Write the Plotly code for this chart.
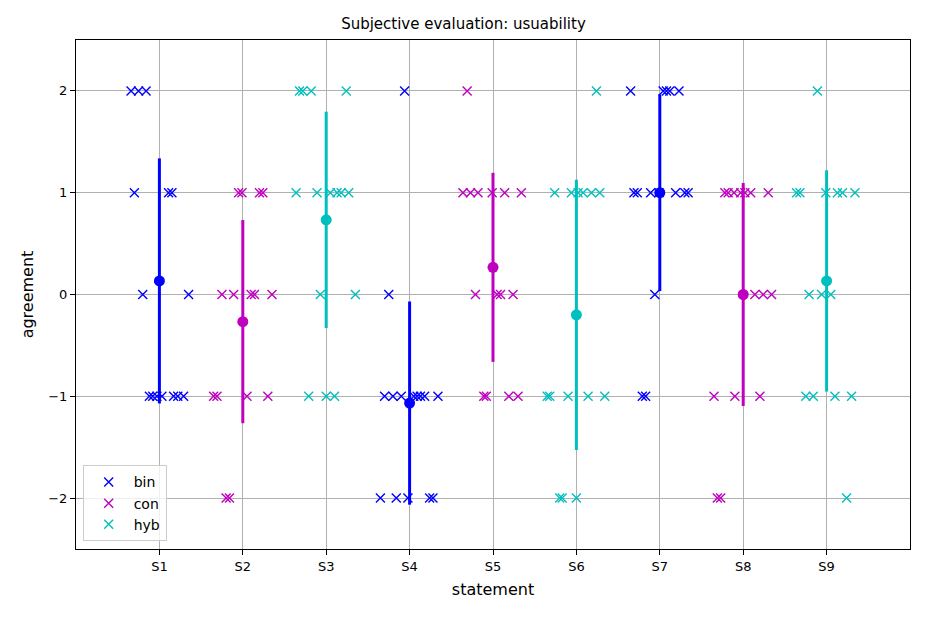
import numpy as np
import plotly.graph_objects as go

statements = ["S1", "S2", "S3", "S4", "S5", "S6", "S7", "S8", "S9"]
series_names = ["bin", "con", "hyb"]
series_colors = ["#0000ff", "#bf00bf", "#00bfbf"]
series_statements = [[0, 3, 6], [1, 4, 7], [2, 5, 8]]

# responses (15 per statement) and horizontal jitter offsets
s1_values = [2, 2, 2, 1, 1, 1, 0, 0, -1, -1, -1, -1, -1, -1, -1]
s1_jitter = [-0.34, -0.25, -0.16, -0.30, 0.11, 0.15, -0.20, 0.35, -0.12, -0.08, -0.03, 0.03, 0.17, 0.22, 0.29]

s2_values = [1, 1, 1, 1, 0, 0, 0, 0, 0, -1, -1, -1, -1, -2, -2]
s2_jitter = [-0.05, -0.01, 0.20, 0.24, -0.25, -0.11, 0.10, 0.14, 0.35, -0.35, -0.31, 0.05, 0.30, -0.20, -0.16]

s3_values = [2, 2, 2, 2, 1, 1, 1, 1, 1, 1, 0, 0, -1, -1, -1]
s3_jitter = [-0.32, -0.28, -0.18, 0.24, -0.36, -0.11, 0.05, 0.13, 0.18, 0.27, -0.07, 0.35, -0.21, 0.00, 0.10]

s4_values = [2, 0, -1, -1, -1, -1, -1, -1, -1, -1, -2, -2, -2, -2, -2]
s4_jitter = [-0.06, -0.25, -0.30, -0.20, -0.10, 0.05, 0.09, 0.13, 0.18, 0.34, -0.35, -0.16, -0.02, 0.24, 0.28]

s5_values = [2, 1, 1, 1, 1, 1, 1, 0, 0, 0, 0, -1, -1, -1, -1]
s5_jitter = [-0.31, -0.36, -0.27, -0.18, -0.01, 0.14, 0.34, -0.21, 0.05, 0.09, 0.24, -0.11, -0.08, 0.19, 0.30]

s6_values = [2, 1, 1, 1, 1, 1, 1, -1, -1, -1, -1, -1, -2, -2, -2]
s6_jitter = [0.24, -0.26, -0.06, 0.02, 0.08, 0.18, 0.28, -0.35, -0.32, -0.10, 0.14, 0.34, -0.20, -0.17, 0.00]

s7_values = [2, 2, 2, 2, 2, 1, 1, 1, 1, 1, 1, 1, 0, -1, -1]
s7_jitter = [-0.35, 0.04, 0.08, 0.12, 0.23, -0.31, -0.27, -0.11, -0.01, 0.19, 0.30, 0.34, -0.06, -0.21, -0.17]

s8_values = [1, 1, 1, 1, 1, 1, 1, 0, 0, 0, -1, -1, -1, -2, -2]
s8_jitter = [-0.22, -0.18, -0.11, -0.03, 0.02, 0.09, 0.30, 0.14, 0.24, 0.34, -0.35, -0.10, 0.20, -0.31, -0.27]

s9_values = [2, 1, 1, 1, 1, 1, 1, 0, 0, 0, -1, -1, -1, -1, -2]
s9_jitter = [-0.11, -0.36, -0.32, -0.01, 0.13, 0.19, 0.34, -0.21, -0.06, 0.05, -0.25, -0.16, 0.10, 0.30, 0.24]

all_values = [s1_values, s2_values, s3_values, s4_values, s5_values,
              s6_values, s7_values, s8_values, s9_values]
all_jitter = [s1_jitter, s2_jitter, s3_jitter, s4_jitter, s5_jitter,
              s6_jitter, s7_jitter, s8_jitter, s9_jitter]

y_tickvals = [-2, -1, 0, 1, 2]
y_ticktext = ["\u22122", "\u22121", "0", "1", "2"]

fig = go.Figure()

for name, color, idxs in zip(series_names, series_colors, series_statements):
    xs, ys = [], []
    for i in idxs:
        xs += [i + 1 + j for j in all_jitter[i]]
        ys += all_values[i]
    fig.add_trace(go.Scatter(
        x=xs, y=ys, mode="markers", name=name,
        marker=dict(symbol="x-thin", size=9, color=color,
                    line=dict(color=color, width=1.4)),
    ))

for name, color, idxs in zip(series_names, series_colors, series_statements):
    mx = [i + 1 for i in idxs]
    my = [float(np.mean(all_values[i])) for i in idxs]
    sd = [float(np.std(all_values[i])) for i in idxs]
    fig.add_trace(go.Scatter(
        x=mx, y=my, mode="markers", showlegend=False,
        marker=dict(symbol="circle", size=11, color=color),
        error_y=dict(type="data", array=sd, symmetric=True,
                     thickness=3, width=0, color=color),
    ))

axis_common = dict(
    showgrid=True, gridcolor="#b0b0b0", gridwidth=1,
    showline=True, linecolor="black", linewidth=1, mirror=True,
    ticks="outside", ticklen=5, tickcolor="black", zeroline=False,
    tickfont=dict(family="DejaVu Sans", size=13, color="black"),
)

fig.update_layout(
    width=919, height=610,
    margin=dict(l=68, r=17, t=32, b=69),
    paper_bgcolor="white", plot_bgcolor="white",
    font=dict(family="DejaVu Sans", color="black"),
    title=dict(text="Subjective evaluation: usuability", x=0.4956, xref="container",
               xanchor="center", y=0.9738, yref="container", yanchor="middle",
               font=dict(family="DejaVu Sans", size=15, color="black")),
    xaxis=dict(range=[0, 10], tickvals=list(range(1, 10)), ticktext=statements,
               title=dict(text="statement", font=dict(family="DejaVu Sans", size=16),
                          standoff=11),
               **axis_common),
    yaxis=dict(range=[-2.5, 2.5], tickvals=y_tickvals, ticktext=y_ticktext,
               title=dict(text="agreement", font=dict(family="DejaVu Sans", size=16),
                          standoff=10),
               **axis_common),
    legend=dict(x=0.008, y=0.015, xanchor="left", yanchor="bottom",
                bgcolor="rgba(255,255,255,0.8)", bordercolor="#cccccc", borderwidth=1,
                font=dict(family="DejaVu Sans", size=14, color="black"),
                itemwidth=40, tracegroupgap=2),
)

fig.write_html("out.html")
